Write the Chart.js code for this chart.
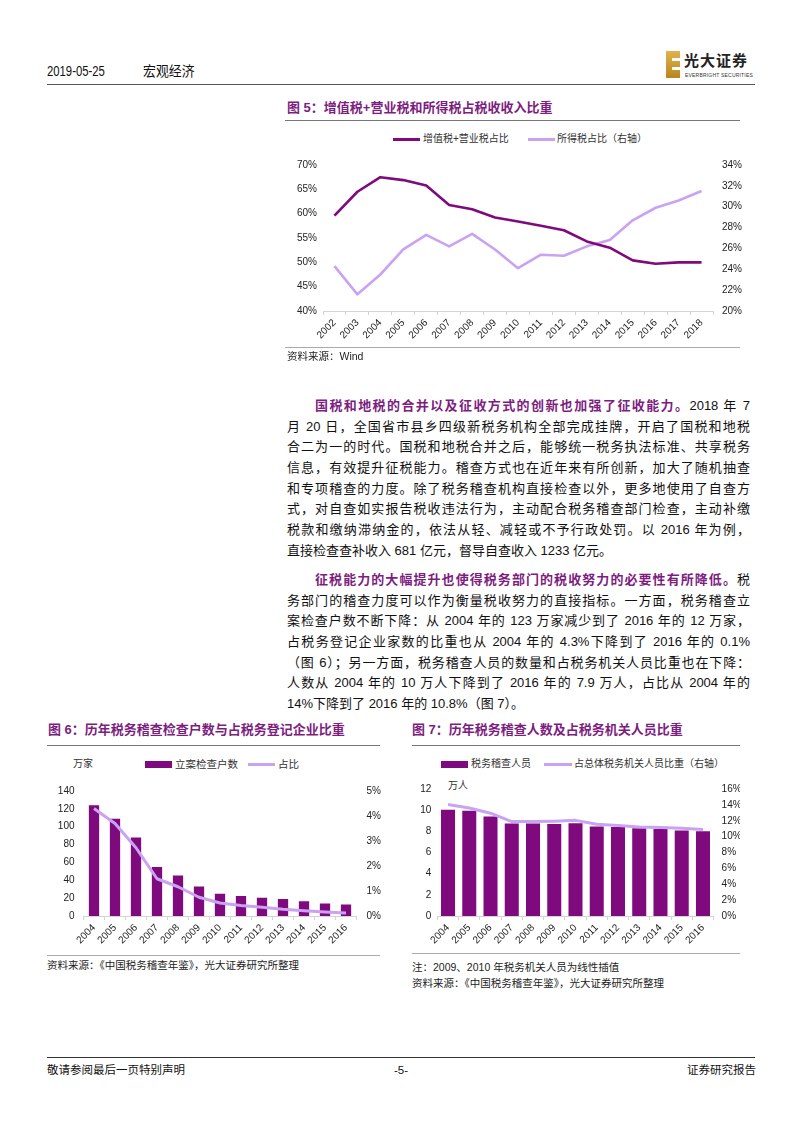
<!DOCTYPE html>
<html lang="zh-CN">
<head>
<meta charset="UTF-8">
<title>宏观经济 2019-05-25</title>
<script src="https://cdn.jsdelivr.net/npm/chart.js"></script>
<style>
  body { margin: 0; background: #fff; }
  #page {
    position: relative; width: 800px; height: 1132px; background: #fff; overflow: hidden;
    font-family: "Liberation Sans", "Noto Sans CJK SC", sans-serif; color: #111;
  }
  .abs { position: absolute; white-space: nowrap; }
  .rule { position: absolute; height: 0; border-top: 1px solid #888; }
  .fig-title { position: absolute; white-space: nowrap; font-size: 13px; line-height: 18px; font-weight: bold; color: #7d1e7f; }
  .src { position: absolute; white-space: nowrap; font-size: 10.5px; line-height: 14px; color: #222; }
  .lg { position: absolute; white-space: nowrap; font-size: 10px; line-height: 14px; color: #333; }
  .sw { position: absolute; }
  .para { position: absolute; left: 287px; width: 463px; font-size: 13px; line-height: 20.7px; }
  .para div { text-align: justify; text-align-last: justify; height: 20.7px; }
  .para div.last { text-align-last: left; }
  .para div.first { padding-left: 28px; }
  .lead { color: #7d1e7f; font-weight: bold; }
  canvas { position: absolute; }
</style>
</head>
<body>
<div id="page">
  <!-- header -->
  <div class="abs" style="left:47px;top:62px;font-size:14.5px;line-height:18px;transform:scaleX(0.78);transform-origin:left center;">2019-05-25</div>
  <div class="abs" style="left:143px;top:62px;font-size:14px;line-height:18px;transform:scaleX(0.92);transform-origin:left center;">宏观经济</div>
  <div class="abs" style="left:666px;top:51px;width:14px;height:27px;background:linear-gradient(#e0b44a,#b8861e);"></div>
  <div class="abs" style="left:672px;top:58px;width:8px;height:3px;background:#fff;"></div>
  <div class="abs" style="left:672px;top:67px;width:8px;height:3px;background:#fff;"></div>
  <div class="abs" style="left:684px;top:52px;font-size:15px;line-height:18px;font-weight:bold;letter-spacing:1px;color:#222;">光大证券</div>
  <div class="abs" style="left:685px;top:72px;font-size:5px;line-height:7px;color:#333;letter-spacing:0.2px;">EVERBRIGHT SECURITIES</div>
  <div class="rule" style="left:47px;top:84px;width:708px;border-top:1.5px solid #555;"></div>

  <!-- figure 5 -->
  <div class="fig-title" style="left:287px;top:99px;">图 5：增值税+营业税和所得税占税收收入比重</div>
  <div class="rule" style="left:285px;top:120px;width:455px;border-top-color:#777;"></div>
  <div class="sw" style="left:393px;top:138px;width:27px;height:3px;background:#7e0a7e;"></div>
  <div class="lg" style="left:423px;top:132px;">增值税+营业税占比</div>
  <div class="sw" style="left:528px;top:138px;width:27px;height:3px;background:#c9a3f2;"></div>
  <div class="lg" style="left:557px;top:132px;">所得税占比（右轴）</div>
  <canvas id="c5" width="470" height="200" style="left:285px;top:150px;"></canvas>
  <div class="rule" style="left:285px;top:347px;width:455px;border-top-color:#aaa;"></div>
  <div class="src" style="left:287px;top:349px;">资料来源：Wind</div>

  <!-- body text -->
  <div class="para" style="top:396px;">
    <div class="first"><span class="lead">国税和地税的合并以及征收方式的创新也加强了征收能力。</span>2018 年 7</div>
    <div>月 20 日，全国省市县乡四级新税务机构全部完成挂牌，开启了国税和地税</div>
    <div>合二为一的时代。国税和地税合并之后，能够统一税务执法标准、共享税务</div>
    <div>信息，有效提升征税能力。稽查方式也在近年来有所创新，加大了随机抽查</div>
    <div>和专项稽查的力度。除了税务稽查机构直接检查以外，更多地使用了自查方</div>
    <div>式，对自查如实报告税收违法行为，主动配合税务稽查部门检查，主动补缴</div>
    <div>税款和缴纳滞纳金的，依法从轻、减轻或不予行政处罚。以 2016 年为例，</div>
    <div class="last">直接检查查补收入 681 亿元，督导自查收入 1233 亿元。</div>
  </div>
  <div class="para" style="top:570px;">
    <div class="first"><span class="lead">征税能力的大幅提升也使得税务部门的税收努力的必要性有所降低。</span>税</div>
    <div>务部门的稽查力度可以作为衡量税收努力的直接指标。一方面，税务稽查立</div>
    <div>案检查户数不断下降：从 2004 年的 123 万家减少到了 2016 年的 12 万家，</div>
    <div>占税务登记企业家数的比重也从 2004 年的 4.3%下降到了 2016 年的 0.1%</div>
    <div>（图 6）；另一方面，税务稽查人员的数量和占税务机关人员比重也在下降：</div>
    <div>人数从 2004 年的 10 万人下降到了 2016 年的 7.9 万人，占比从 2004 年的</div>
    <div class="last">14%下降到了 2016 年的 10.8%（图 7）。</div>
  </div>

  <!-- figure 6 -->
  <div class="fig-title" style="left:48px;top:721px;">图 6：历年税务稽查检查户数与占税务登记企业比重</div>
  <div class="rule" style="left:47px;top:745px;width:333px;border-top-color:#777;"></div>
  <div class="lg" style="left:73px;top:757px;">万家</div>
  <div class="sw" style="left:145px;top:761px;width:27px;height:7px;background:#7e0a7e;"></div>
  <div class="lg" style="left:175px;top:757px;font-size:10.5px;">立案检查户数</div>
  <div class="sw" style="left:248px;top:763px;width:27px;height:3px;background:#c9a3f2;"></div>
  <div class="lg" style="left:278px;top:757px;font-size:10.5px;">占比</div>
  <canvas id="c6" width="340" height="175" style="left:47px;top:775px;"></canvas>
  <div class="rule" style="left:47px;top:955px;width:333px;border-top-color:#aaa;"></div>
  <div class="src" style="left:47px;top:958px;">资料来源：《中国税务稽查年鉴》，光大证券研究所整理</div>

  <!-- figure 7 -->
  <div class="fig-title" style="left:412px;top:721px;">图 7：历年税务稽查人数及占税务机关人员比重</div>
  <div class="rule" style="left:412px;top:745px;width:328px;border-top-color:#777;"></div>
  <div class="sw" style="left:441px;top:761px;width:27px;height:7px;background:#7e0a7e;"></div>
  <div class="lg" style="left:471px;top:757px;">税务稽查人员</div>
  <div class="sw" style="left:544px;top:763px;width:28px;height:3px;background:#c9a3f2;"></div>
  <div class="lg" style="left:574px;top:757px;">占总体税务机关人员比重（右轴）</div>
  <div class="lg" style="left:448px;top:779px;">万人</div>
  <canvas id="c7" width="335" height="175" style="left:405px;top:775px;"></canvas>
  <div class="rule" style="left:412px;top:953px;width:328px;border-top-color:#aaa;"></div>
  <div class="src" style="left:412px;top:960px;">注：2009、2010 年税务机关人员为线性插值</div>
  <div class="src" style="left:412px;top:976px;">资料来源：《中国税务稽查年鉴》，光大证券研究所整理</div>

  <!-- footer -->
  <div class="rule" style="left:47px;top:1057px;width:708px;border-top-color:#333;"></div>
  <div class="abs" style="left:47px;top:1063px;font-size:11.5px;line-height:14px;">敬请参阅最后一页特别声明</div>
  <div class="abs" style="left:394px;top:1063px;font-size:11.5px;line-height:14px;">-5-</div>
  <div class="abs" style="left:687px;top:1063px;font-size:11.5px;line-height:14px;">证券研究报告</div>
</div>

<script>
  // fig 5: share of tax revenue, 2002-2018
  const years5 = ['2002', '2003', '2004', '2005', '2006', '2007', '2008', '2009', '2010',
                  '2011', '2012', '2013', '2014', '2015', '2016', '2017', '2018'];
  const vatShare = [59.6, 64.5, 67.5, 66.9, 65.8, 61.8, 60.9, 59.2, 58.4, 57.5, 56.6, 54.3, 53.0, 50.4, 49.7, 50.0, 50.0];
  const incomeTaxShare = [24.3, 21.6, 23.5, 25.9, 27.3, 26.2, 27.4, 25.9, 24.1, 25.4, 25.3, 26.2, 26.8, 28.7, 29.9, 30.6, 31.5];
  const ticks5Left = [40, 45, 50, 55, 60, 65, 70];
  const ticks5Right = [20, 22, 24, 26, 28, 30, 32, 34];

  // fig 6 / fig 7: 2004-2016
  const years67 = ['2004', '2005', '2006', '2007', '2008', '2009', '2010', '2011', '2012', '2013', '2014', '2015', '2016'];
  const auditCases = [124, 109, 88, 55, 45.5, 33, 25, 22.5, 20.5, 19, 16.5, 14, 13];
  const auditCaseShare = [4.3, 3.7, 2.73, 1.49, 1.17, 0.75, 0.52, 0.42, 0.35, 0.27, 0.21, 0.16, 0.12];
  const ticks6Left = [0, 20, 40, 60, 80, 100, 120, 140];
  const ticks6Right = [0, 1, 2, 3, 4, 5];

  const auditStaff = [10.05, 9.95, 9.4, 8.75, 8.73, 8.7, 8.76, 8.45, 8.42, 8.3, 8.23, 8.07, 8.0];
  const auditStaffShare = [14.05, 13.6, 12.95, 11.9, 11.9, 11.95, 12.05, 11.55, 11.4, 11.2, 11.15, 11.05, 10.9];
  const ticks7Left = [0, 2, 4, 6, 8, 10, 12];
  const ticks7Right = [0, 2, 4, 6, 8, 10, 12, 14, 16];

  const DARK = '#7e0a7e';
  const LIGHT = '#c9a3f2';
  const AXIS = '#d4d4d4';

  Chart.defaults.font.family = '"Liberation Sans", Arial, sans-serif';
  Chart.defaults.font.size = 10;
  Chart.defaults.color = '#222';
  Chart.defaults.animation = false;

  const pct = v => v + '%';

  function xAxis(height) {
    return {
      type: 'category',
      offset: true,
      grid: { display: true, offset: true, drawOnChartArea: false, drawTicks: true, tickLength: 4, color: AXIS },
      border: { display: true, color: AXIS },
      ticks: { minRotation: 45, maxRotation: 45, autoSkip: false, padding: 2 },
      afterFit: s => { s.height = height; }
    };
  }

  function yAxis(position, ticks, width, pad, fmt) {
    return {
      position: position,
      min: ticks[0],
      max: ticks[ticks.length - 1],
      grid: { display: false, drawTicks: false },
      border: { display: false },
      ticks: { padding: pad, callback: fmt },
      afterBuildTicks: s => { s.ticks = ticks.map(v => ({ value: v })); },
      afterFit: s => { s.width = width; }
    };
  }

  const common = {
    responsive: false,
    layout: { padding: { top: 13, bottom: 0, left: 0, right: 0 } },
    plugins: { legend: { display: false }, tooltip: { enabled: false } }
  };

  new Chart(document.getElementById('c5'), {
    type: 'line',
    data: {
      labels: years5,
      datasets: [
        { label: '增值税+营业税占比', data: vatShare, borderColor: DARK, borderWidth: 2.6,
          pointRadius: 0, borderJoinStyle: 'round', yAxisID: 'y' },
        { label: '所得税占比（右轴）', data: incomeTaxShare, borderColor: LIGHT, borderWidth: 2.6,
          pointRadius: 0, borderJoinStyle: 'round', yAxisID: 'y1' }
      ]
    },
    options: {
      ...common,
      scales: {
        x: xAxis(39),
        y: yAxis('left', ticks5Left, 38, 6, pct),
        y1: yAxis('right', ticks5Right, 42, 9, pct)
      }
    }
  });

  new Chart(document.getElementById('c6'), {
    type: 'bar',
    data: {
      labels: years67,
      datasets: [
        { type: 'line', label: '占比', data: auditCaseShare, borderColor: LIGHT, borderWidth: 3,
          pointRadius: 0, borderJoinStyle: 'round', yAxisID: 'y1', order: 1 },
        { type: 'bar', label: '立案检查户数', data: auditCases, backgroundColor: DARK,
          barPercentage: 0.49, categoryPercentage: 1, yAxisID: 'y', order: 2 }
      ]
    },
    options: {
      ...common,
      scales: {
        x: xAxis(34),
        y: yAxis('left', ticks6Left, 36.5, 9, v => v),
        y1: yAxis('right', ticks6Right, 30.5, 10, pct)
      }
    }
  });

  new Chart(document.getElementById('c7'), {
    type: 'bar',
    data: {
      labels: years67,
      datasets: [
        { type: 'line', label: '占总体税务机关人员比重（右轴）', data: auditStaffShare, borderColor: LIGHT, borderWidth: 3,
          pointRadius: 0, borderJoinStyle: 'round', yAxisID: 'y1', order: 1 },
        { type: 'bar', label: '税务稽查人员', data: auditStaff, backgroundColor: DARK,
          barPercentage: 0.66, categoryPercentage: 1, yAxisID: 'y', order: 2 }
      ]
    },
    options: {
      ...common,
      scales: {
        x: xAxis(34),
        y: yAxis('left', ticks7Left, 32.4, 6, v => v),
        y1: yAxis('right', ticks7Right, 26.4, 8, pct)
      }
    }
  });
</script>
</body>
</html>
